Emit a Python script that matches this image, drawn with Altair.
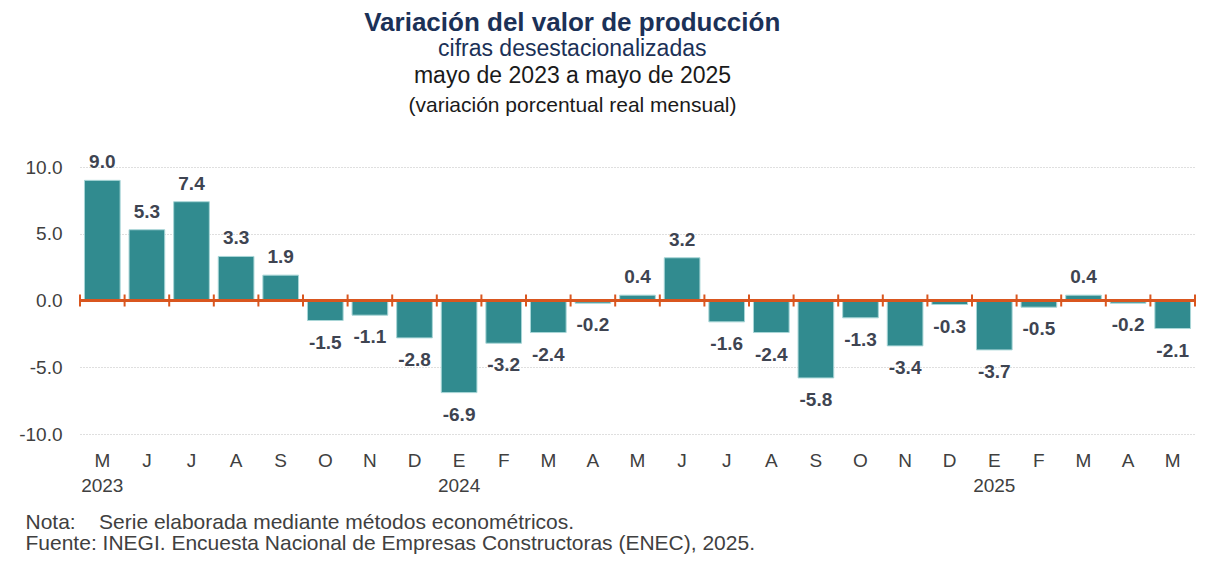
import json
import altair as alt
import pandas as pd

# ---- data ----
months = ["M", "J", "J", "A", "S", "O", "N", "D", "E", "F", "M", "A",
          "M", "J", "J", "A", "S", "O", "N", "D", "E", "F", "M", "A", "M"]
years = ["2023", "", "", "", "", "", "", "", "2024", "", "", "",
         "", "", "", "", "", "", "", "", "2025", "", "", "", ""]
values = [9.0, 5.3, 7.4, 3.3, 1.9, -1.5, -1.1, -2.8, -6.9, -3.2, -2.4, -0.2,
          0.4, 3.2, -1.6, -2.4, -5.8, -1.3, -3.4, -0.3, -3.7, -0.5, 0.4, -0.2, -2.1]
y_ticks = [-10, -5, 0, 5, 10]

title_main = "Variación del valor de producción"
title_sub = "cifras desestacionalizadas"
title_period = "mayo de 2023 a mayo de 2025"
title_unit = "(variación porcentual real mensual)"
note_lines = [
    "Nota:\u00a0\u00a0\u00a0\u00a0Serie elaborada mediante métodos econométricos.",
    "Fuente: INEGI. Encuesta Nacional de Empresas Constructoras (ENEC), 2025.",
]

df = pd.DataFrame({
    "i": list(range(len(values))),
    "value": values,
    "label": [f"{v:.1f}" for v in values],
})

FONT = "Liberation Sans"
TEAL = "#318B8F"
ORANGE = "#D9561F"
NAVY = "#1B3157"
LABEL_C = "#3E4451"
AXIS_C = "#404040"

x_labels = [[m, y] if y else [m] for m, y in zip(months, years)]
x_label_expr = json.dumps(x_labels, ensure_ascii=False) + "[datum.value]"

xscale = alt.Scale(paddingInner=0, paddingOuter=0)
xaxis = alt.Axis(
    title=note_lines, labelExpr=x_label_expr, labelAngle=0, domain=False,
    ticks=False, grid=False, labelPadding=17, labelFontSize=19,
    labelColor=AXIS_C, labelLineHeight=25, labelBaseline="top",
    titleFontSize=21, titleFontWeight="normal", titleColor=AXIS_C,
    titleAlign="left", titleAnchor="start", titleX=-55, titleY=77,
    titleBaseline="top", titleLineHeight=21,
)
yscale = alt.Scale(domain=[-10, 10], nice=False)
yaxis = alt.Axis(
    title=None, values=y_ticks,
    labelExpr="replace(format(datum.value, '.1f'), '\u2212', '-')",
    domain=False, ticks=False, labelPadding=18, minExtent=72,
    labelFontSize=19, labelColor=AXIS_C,
    gridColor="#BFBFBF", gridDash=[1, 2], gridWidth=1,
)

X = alt.X("i:O", scale=xscale, axis=xaxis)
Y = alt.Y("value:Q", scale=yscale, axis=yaxis)

base = alt.Chart(df)

bars = base.mark_bar(
    width=alt.RelativeBandSize(0.8), color=TEAL, stroke="#A9D6D7", strokeWidth=1
).encode(x=X, y=Y)

zero = base.mark_rule(color=ORANGE, strokeWidth=3).encode(
    y=alt.YDatum(0, scale=yscale, axis=yaxis)
)

ticks = base.mark_rule(color=ORANGE, strokeWidth=2).encode(
    x=alt.X("i:O", scale=xscale, axis=xaxis, bandPosition=0),
    y=alt.YDatum(0.45, scale=yscale, axis=yaxis),
    y2=alt.Y2Datum(-0.45),
)
end_tick = base.transform_filter(alt.datum.i == len(values) - 1).mark_rule(
    color=ORANGE, strokeWidth=2
).encode(
    x=alt.X("i:O", scale=xscale, axis=xaxis, bandPosition=1),
    y=alt.YDatum(0.45, scale=yscale, axis=yaxis),
    y2=alt.Y2Datum(-0.45),
)

lab_pos = base.transform_filter(alt.datum.value >= 0).mark_text(
    baseline="middle", dy=-18, fontSize=19, fontWeight="bold", color=LABEL_C
).encode(x=X, y=Y, text="label:N")
lab_neg = base.transform_filter(alt.datum.value < 0).mark_text(
    baseline="middle", dy=22, fontSize=19, fontWeight="bold", color=LABEL_C
).encode(x=X, y=Y, text="label:N")

inner = alt.layer(bars, zero, ticks, end_tick, lab_pos, lab_neg).properties(
    width=1115, height=267,
    title=alt.TitleParams(
        text=title_period, subtitle=title_unit, fontSize=23,
        subtitleFontSize=21, fontWeight="normal", color="#1A1A1A",
        subtitleColor="#1A1A1A", anchor="middle", dx=-65, offset=37,
        subtitlePadding=7, font=FONT, subtitleFont=FONT,
    ),
)

chart = alt.vconcat(inner).properties(
    title=alt.TitleParams(
        text=title_main, subtitle=title_sub, fontSize=26, fontWeight="bold",
        color=NAVY, subtitleColor=NAVY, subtitleFontSize=23,
        subtitlePadding=2, anchor="middle", dx=-30, offset=4,
        font=FONT, subtitleFont=FONT,
    ),
    padding={"left": 0, "top": 2, "right": 5, "bottom": 5},
).configure(font=FONT).configure_view(stroke=None)

chart.save("out.html", embed_options={"renderer": "svg", "actions": False})
